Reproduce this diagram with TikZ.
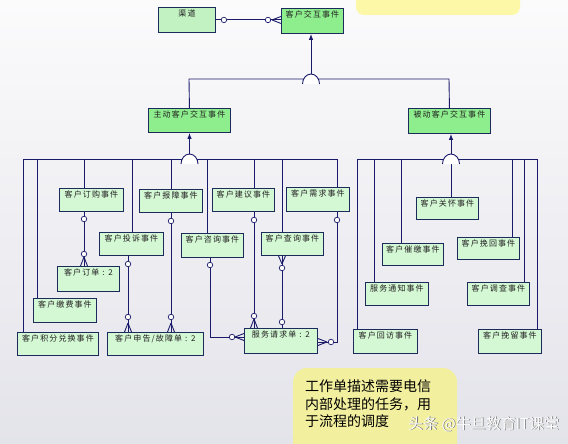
\documentclass[tikz,border=0pt]{standalone}
\usepackage{fontspec}
\newfontfamily\cjk[LetterSpace=14]{Noto Sans CJK SC}
\newfontfamily\cjkn{Noto Sans CJK SC}
\usetikzlibrary{arrows.meta,calc}
\definecolor{lnc}{HTML}{1A1A6A}
\definecolor{bdc}{HTML}{1C2A5C}
\definecolor{higreen}{HTML}{8EEE8E}
\definecolor{lowg}{HTML}{D4F7D4}
\definecolor{qdg}{HTML}{C2F2C2}
\definecolor{notey}{HTML}{F2EF9E}
\definecolor{topy}{HTML}{FCF8A8}
\definecolor{bgtop}{HTML}{FBFBFC}
\definecolor{bgbot}{HTML}{E3E3EA}
\definecolor{txtc}{HTML}{202020}
\newcommand{\ebx}[7]{\node[#2, minimum width=#5pt, minimum height=#6pt] (#1) at (#3,#4) {};\node[lbl] (#1-t) at ([yshift=-3pt]#1.north) {#7};}
\newcommand{\semic}[1]{\path[draw=lnc, line width=0.9pt, fill=white] (#1) ++(-8.5,0) .. controls +(0,-5.5) and +(-4.7,0) .. ++(8.5,-10) .. controls +(4.7,0) and +(0,-5.5) .. ++(8.5,10);}
\newcommand{\crowdown}[1]{\draw[ln] ([yshift=9pt]#1) -- ([xshift=-3.5pt]#1) ([yshift=9pt]#1) -- ([xshift=3.5pt]#1);}
\newcommand{\crowup}[1]{\draw[ln] ([yshift=-8pt]#1) -- ([xshift=-3.5pt]#1) ([yshift=-8pt]#1) -- ([xshift=3.5pt]#1);}
\newcommand{\crowfromleft}[1]{\draw[ln] ([xshift=-9pt]#1) -- ([yshift=-3.5pt]#1) ([xshift=-9pt]#1) -- ([yshift=3.5pt]#1);}
\newcommand{\crowfromright}[1]{\draw[ln] ([xshift=9pt]#1) -- ([yshift=-3.5pt]#1) ([xshift=9pt]#1) -- ([yshift=3.5pt]#1);}
\begin{document}
\begin{tikzpicture}[x=1pt,y=-1pt,
  ln/.style={draw=lnc, line width=0.9pt},
  ebox/.style={draw=bdc, line width=0.9pt, fill=lowg, anchor=north west, inner sep=0pt},
  hbox/.style={ebox, fill=higreen},
  qbox/.style={ebox, fill=qdg},
  lbl/.style={anchor=north, inner sep=0pt, font=\cjk\fontsize{8}{9}\selectfont, text=txtc},
  oc/.style={circle, draw=lnc, fill=white, line width=0.7pt, inner sep=0pt, minimum size=5.5pt},
  arr/.style={ln, -{Latex[length=6pt,width=4.5pt]}}]
\useasboundingbox (0,0) rectangle (568,444);
\begin{scope}
\clip (0,0) rectangle (568,444);
\shade[top color=bgtop, bottom color=bgbot] (0,0) rectangle (568,444);
\fill[topy, rounded corners=8pt] (356,-20) rectangle (520,15);
\fill[notey, rounded corners=14pt] (293,368) rectangle (457,470);
\end{scope}
% boxes
\ebx{qd}{qbox}{158}{7}{57}{25}{渠道}
\ebx{kj}{hbox}{281}{8}{62}{25}{客户交互事件}
\ebx{zd}{hbox}{148}{108}{82}{24}{主动客户交互事件}
\ebx{bd}{hbox}{408}{108}{82}{25}{被动客户交互事件}
\ebx{dg}{ebox}{59}{188}{64}{23}{客户订购事件}
\ebx{bz}{ebox}{139}{189}{63}{23}{客户报障事件}
\ebx{jy}{ebox}{212}{188}{62}{23}{客户建议事件}
\ebx{xq}{ebox}{286}{187}{63}{24}{客户需求事件}
\ebx{ts}{ebox}{99}{232}{64}{23}{客户投诉事件}
\ebx{zx}{ebox}{181}{233}{62}{24}{客户咨询事件}
\ebx{cx}{ebox}{261}{232}{62}{23}{客户查询事件}
\ebx{dd}{ebox}{57}{266}{62}{25}{客户订单 : 2}
\ebx{jf}{ebox}{33}{298}{63}{24}{客户缴费事件}
\ebx{jh}{ebox}{17}{332}{81}{23}{客户积分兑换事件}
\ebx{sg}{ebox}{107}{332}{96}{23}{客户申告/故障单 : 2}
\ebx{fw}{ebox}{244}{328}{73}{25}{服务请求单 : 2}
\ebx{gh}{ebox}{416}{197}{62}{22}{客户关怀事件}
\ebx{cj}{ebox}{382}{243}{61}{22}{客户催缴事件}
\ebx{wh}{ebox}{457}{237}{62}{22}{客户挽回事件}
\ebx{tz}{ebox}{365}{282}{63}{23}{服务通知事件}
\ebx{dc}{ebox}{467}{282}{62}{23}{客户调查事件}
\ebx{hf}{ebox}{353}{329}{64}{24}{客户回访事件}
\ebx{wl}{ebox}{478}{329}{63}{24}{客户挽留事件}
% top generalisation
\coordinate (tb1) at (189,79); \coordinate (tb2) at (449,79);
\draw[ln] (zd.north) -- (tb1) -- (tb2) -- (bd.north);
\coordinate (s1) at (311,84); \coordinate (s1t) at (311,74);
\semic{s1}
\draw[arr] (s1t) -- (s1t |- kj.south);
% left generalisation
\coordinate (lb1) at (23,159); \coordinate (lb2) at (337,159);
\draw[ln] (lb1) -- (lb2);
\foreach \xx/\bb in {23/jh,37/jf,84/dg,132/ts,171/bz,207/zx,254/jy,282/cx,337/xq}
  \draw[ln] (\xx,159) -- (\xx,0 |- \bb.north);
\coordinate (s2) at (189.5,164); \coordinate (s2t) at (189.5,154);
\semic{s2}
\draw[arr] (s2t) -- (s2t |- zd.south);
% right generalisation
\coordinate (rb1) at (357,159); \coordinate (rb2) at (537,159);
\draw[ln] (rb1) -- (rb2);
\foreach \xx/\bb in {357/hf,374/tz,401/cj,512/wh,524/dc,537/wl}
  \draw[ln] (\xx,159) -- (\xx,0 |- \bb.north);
\coordinate (s3) at (451,164); \coordinate (s3t) at (451,154);
\draw[ln] (s3) -- (s3 |- gh.north);
\semic{s3}
\draw[arr] (s3t) -- (s3t |- bd.south);
% qd -> kj
\coordinate (h1) at (qd.east); \coordinate (h2) at (qd.east -| kj.west);
\draw[ln] (h1) -- (h2);
\node[oc] (h1c) at ([xshift=8pt]h1) {};
\node[oc] (h2c) at ([xshift=-13pt]h2) {};
\crowfromleft{h2}
% dg -> dd
\coordinate (a1) at (84,0 |- dg.south); \coordinate (a2) at (84,0 |- dd.north);
\draw[ln] (a1) -- (a2);
\node[oc] (a1c) at (84,219) {}; \node[oc] (a2c) at (84,254) {};
\crowdown{a2}
% ts -> sg
\coordinate (b1) at (128,0 |- ts.south); \coordinate (b2) at (128,0 |- sg.north);
\draw[ln] (b1) -- (b2);
\node[oc] (b1c) at (128,264) {}; \node[oc] (b2c) at (128,317) {};
\crowdown{b2}
% bz -> sg
\coordinate (c1) at (171,0 |- bz.south); \coordinate (c2) at (171,0 |- sg.north);
\draw[ln] (c1) -- (c2);
\node[oc] (c1c) at (171,221) {}; \node[oc] (c2c) at (171,317) {};
\crowdown{c2}
% zx -> fw
\coordinate (d1) at (210,0 |- zx.south); \coordinate (d2) at (210,337); \coordinate (d3) at (d2 -| fw.west);
\draw[ln] (d1) -- (d2) -- (d3);
\node[oc] (d1c) at (210,265) {}; \node[oc] (d3c) at (232,337) {};
\crowfromleft{d3}
% jy -> fw
\coordinate (e1) at (254,0 |- jy.south); \coordinate (e2) at (254,0 |- fw.north);
\draw[ln] (e1) -- (e2);
\node[oc] (e1c) at (254,220) {}; \node[oc] (e2c) at (254,316) {};
\crowdown{e2}
% cx -> fw
\coordinate (f1) at (282,0 |- cx.south); \coordinate (f2) at (282,0 |- fw.north);
\draw[ln] (f1) -- (f2);
\crowup{f1}
\node[oc] (f1c) at (282,268) {}; \node[oc] (f2c) at (282,322) {};
% xq -> fw
\coordinate (g1) at (337,0 |- xq.south); \coordinate (g2) at (337,342); \coordinate (g3) at (g2 -| fw.east);
\draw[ln] (g1) -- (g2) -- (g3);
\node[oc] (g1c) at (337,220) {}; \node[oc] (g3c) at (331,342) {};
\crowfromright{g3}
% note
\node[anchor=north west, align=left, inner sep=0pt, font=\cjkn\fontsize{14}{17.5}\selectfont, text=black] (note) at (305,380) {工作单描述需要电信\\内部处理的任务，用\\于流程的调度};
\node[anchor=west, inner sep=0pt, font=\cjkn\fontsize{15}{16}\selectfont, text=black!55] (wms) at (408.8,424.8) {头条 @牛旦教育IT课堂};
\node[anchor=west, inner sep=0pt, font=\cjkn\fontsize{15}{16}\selectfont, text=white] (wm) at (408,424) {头条 @牛旦教育IT课堂};
\end{tikzpicture}
\end{document}
